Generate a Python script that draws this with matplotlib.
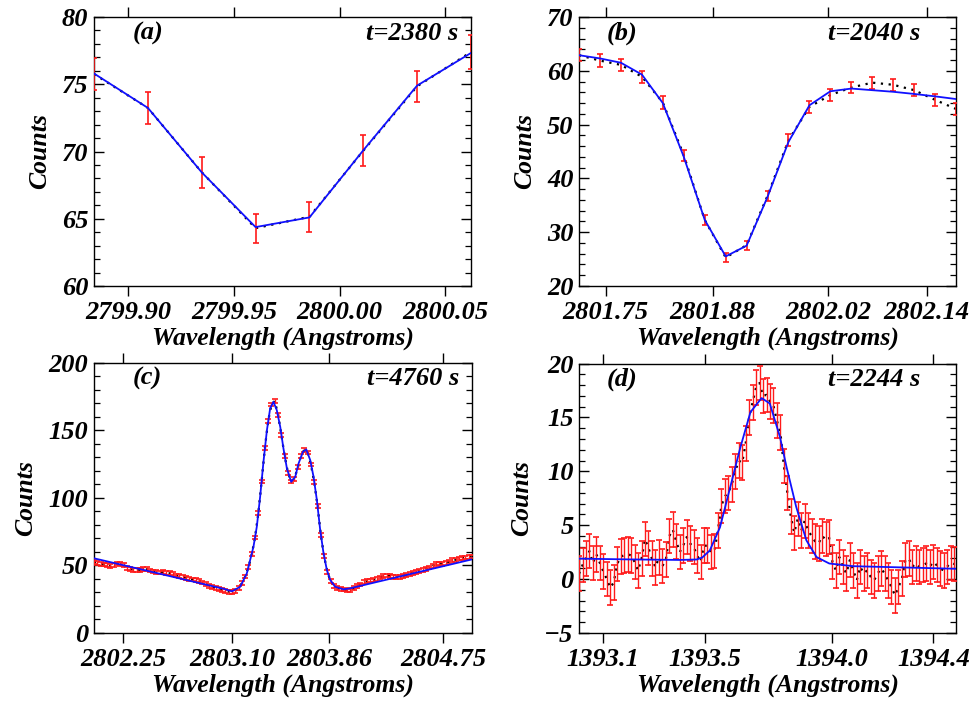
import numpy as np
import matplotlib
matplotlib.use("Agg")
import matplotlib.pyplot as plt
from matplotlib.ticker import MultipleLocator, FixedLocator, FixedFormatter

plt.rcParams['font.family'] = ['Liberation Serif', 'DejaVu Serif']
plt.rcParams['font.weight'] = 'bold'
plt.rcParams['font.style'] = 'italic'
plt.rcParams['axes.labelweight'] = 'bold'

# ---------------- Panel (a) ----------------
wave_a = [2799.8838, 2799.9093, 2799.9348, 2799.9602, 2799.9857, 2800.0112, 2800.0366, 2800.0621]
counts_a = [75.76, 73.24, 68.45, 64.30, 65.15, 70.07, 74.85, 77.40]
err_a = [1.20, 1.19, 1.15, 1.07, 1.10, 1.17, 1.17, 1.23]
fit_a = [75.80, 73.24, 68.44, 64.38, 65.10, 70.10, 74.90, 77.33]

# ---------------- Panel (b) ----------------
wave_b = [2801.7175, 2801.7430, 2801.7684, 2801.7939, 2801.8193, 2801.8448, 2801.8702,
          2801.8957, 2801.9211, 2801.9466, 2801.9720, 2801.9975, 2802.0229, 2802.0484,
          2802.0738, 2802.0993, 2802.1247, 2802.1502, 2802.1756]
counts_b = [62.9, 61.9, 61.1, 58.9, 54.1, 44.3, 32.3, 25.3, 27.6, 36.8, 47.1, 53.3,
            55.5, 56.9, 57.8, 57.4, 56.4, 54.6, 52.9]
err_b = [1.15, 1.17, 1.08, 1.10, 1.14, 0.99, 0.93, 0.80, 0.83, 0.93, 1.08, 1.08,
         1.08, 1.08, 1.14, 1.14, 1.08, 1.08, 1.08]
fit_b = [62.9, 62.3, 61.5, 59.3, 54.0, 44.0, 32.3, 25.5, 27.5, 36.6, 46.8, 53.6,
         56.2, 56.7, 56.4, 56.1, 55.7, 55.25, 54.75]

# ---------------- Panel (c) ----------------
wave_c_start = 2802.023
wave_c_step = 0.02566
counts_c = [52.5, 51.8, 51.0, 50.4, 50.0, 49.4, 50.2, 51.1, 50.6, 49.8,
            47.6, 47.2, 46.6, 46.3, 46.5, 47.1, 46.8, 46.0, 45.2, 44.8,
            44.4, 44.6, 44.0, 43.9, 43.2, 42.3, 41.6, 41.0, 40.5, 39.7,
            39.3, 39.0, 38.4, 37.1, 35.9, 34.6, 33.5, 32.9, 32.3, 31.6,
            31.0, 30.3, 30.0, 31.0, 33.0, 36.5, 41.5, 48.5, 58.0, 70.5,
            88.5, 112.0, 137.0, 157.0, 169.0, 171.5, 161.5, 146.5, 131.0, 118.5,
            112.0, 114.0, 122.5, 131.0, 135.5, 133.5, 124.5, 111.5, 94.0, 72.5,
            56.5, 45.0, 38.0, 34.5, 32.8, 32.5, 31.8, 31.2, 31.4, 32.8,
            34.2, 35.6, 37.3, 38.0, 38.6, 38.9, 39.6, 40.8, 41.8, 42.2,
            41.9, 41.2, 40.9, 41.3, 42.0, 42.6, 43.6, 44.3, 45.0, 45.8,
            46.6, 47.3, 48.2, 49.4, 51.0, 51.2, 50.8, 51.3, 52.5, 53.6,
            53.9, 54.8, 55.4, 55.6, 56.0, 56.4]
err_c = 1.4
fit_c_wave = [2802.023, 2803.040, 2803.100, 2803.164, 2803.216, 2803.268, 2803.294,
              2803.320, 2803.346, 2803.373, 2803.398, 2803.424, 2803.450, 2803.477,
              2803.502, 2803.529, 2803.5625, 2803.594, 2803.620, 2803.654, 2803.680,
              2803.711, 2803.737, 2803.763, 2803.789, 2803.815, 2803.841, 2803.867,
              2803.906, 2803.971, 2804.020, 2804.974]
fit_c_counts = [55.0, 32.3, 30.5, 33.9, 43.8, 63.6, 78.4, 100.6, 126.5, 150.0, 166.0,
                171.0, 164.8, 152.4, 136.4, 121.6, 111.7, 115.4, 125.3, 133.9, 135.7,
                127.8, 115.4, 98.1, 75.9, 58.7, 46.3, 38.9, 33.9, 32.0, 32.7, 54.2]

# ---------------- Panel (d) ----------------
wave_d_start = 1393.0055
wave_d_step = 0.01366
counts_d = [0.5, 1.3, 1.9, 2.6, 1.5, 2.3, 1.5, 0.7, 0.0, -0.8,
            -0.3, 1.4, 2.1, 2.2, 2.3, 2.2, 1.6, 0.8, 1.9, 3.7,
            2.9, 1.9, 1.1, 2.0, 1.2, 1.8, 4.0, 4.6, 3.5, 2.5,
            3.1, 3.9, 3.3, 3.0, 2.2, 1.6, 3.1, 3.1, 2.5, 2.6,
            4.5, 6.8, 7.7, 8.0, 8.8, 10.0, 11.0, 10.8, 12.6, 15.0,
            16.4, 17.8, 18.2, 17.0, 17.1, 16.5, 16.1, 14.7, 13.6, 10.5,
            8.0, 5.8, 4.3, 5.6, 4.5, 5.4, 4.5, 4.0, 3.5, 3.3,
            4.0, 3.7, 3.9, 1.57, 0.81, 2.04, 1.14, 0.53, 1.76, 0.81,
            -0.12, 1.14, 0.53, 0.81, 0.22, -0.12, 0.53, 0.99, 0.53, -0.12,
            -0.74, -1.51, -0.74, 0.04, 1.76, 1.91, 1.14, 1.45, 1.14, 1.30,
            1.45, 1.14, 1.60, 1.30, 0.99, 0.81, 1.14, 1.50, 1.40]
err_d = 1.6
fit_d_wave = [1393.0055, 1393.20, 1393.40, 1393.468, 1393.49, 1393.52, 1393.56, 1393.60,
              1393.64, 1393.68, 1393.724, 1393.756, 1393.796, 1393.822, 1393.86,
              1393.90, 1393.94, 1393.99, 1394.084, 1394.489]
fit_d_counts = [1.9, 1.83, 1.78, 1.82, 2.0, 2.66, 4.8, 8.5, 12.2, 15.5, 16.8, 16.3,
                13.2, 10.4, 6.7, 3.6, 2.05, 1.45, 1.2, 0.96]

wave_c = wave_c_start + wave_c_step * np.arange(len(counts_c))
wave_d = wave_d_start + wave_d_step * np.arange(len(counts_d))

panels = [
    dict(pos=[0.0966, 0.5949, 0.3875, 0.3810], w=wave_a, c=counts_a, e=err_a,
         fw=wave_a, fc=fit_a, xlim=(2799.8838, 2800.0621), ylim=(60, 80),
         yt=5, ym=1, xt=[2799.90, 2799.95, 2800.00, 2800.05],
         xl=['2799.90', '2799.95', '2800.00', '2800.05'],
         lab='(a)', labx=0.103, t='t=2380 s', tx=0.965, lw_e=1.2, cap=2.5),
    dict(pos=[0.5951, 0.5949, 0.3875, 0.3810], w=wave_b, c=counts_b, e=err_b,
         fw=wave_b, fc=fit_b, xlim=(2801.7175, 2802.1756), ylim=(20, 70),
         yt=10, ym=2, xt=[2801.75, 2801.88, 2802.02, 2802.14],
         xl=['2801.75', '2801.88', '2802.02', '2802.14'],
         lab='(b)', labx=0.073, t='t=2040 s', tx=0.905, lw_e=1.2, cap=2.5),
    dict(pos=[0.0966, 0.1041, 0.3885, 0.3822], w=wave_c, c=counts_c, e=err_c,
         fw=fit_c_wave, fc=fit_c_counts, xlim=(2802.023, 2804.974), ylim=(0, 200),
         yt=50, ym=10, xt=[2802.25, 2803.10, 2803.86, 2804.75],
         xl=['2802.25', '2803.10', '2803.86', '2804.75'],
         lab='(c)', labx=0.103, t='t=4760 s', tx=0.965, lw_e=1.0, cap=2.0),
    dict(pos=[0.5951, 0.1034, 0.3875, 0.3816], w=wave_d, c=counts_d, e=err_d,
         fw=fit_d_wave, fc=fit_d_counts, xlim=(1393.0055, 1394.489), ylim=(-5, 20),
         yt=5, ym=1, xt=[1393.1, 1393.5, 1394.0, 1394.4],
         xl=['1393.1', '1393.5', '1394.0', '1394.4'],
         lab='(d)', labx=0.073, t='t=2244 s', tx=0.905, lw_e=1.0, cap=2.0),
]

fig = plt.figure(figsize=(9.73, 7.06), dpi=100)
for p in panels:
    ax = fig.add_axes(p['pos'])
    ax.plot(p['w'], p['c'], linestyle=(0, (1, 2.5)), color='black', lw=1.6, zorder=2)
    ax.errorbar(p['w'], p['c'], yerr=p['e'], fmt='none', ecolor='#ff1a1a',
                elinewidth=p['lw_e'], capsize=p['cap'], capthick=1.2, zorder=3)
    ax.plot(p['fw'], p['fc'], color='#1010ff', lw=1.3, zorder=4)
    ax.set_xlim(*p['xlim'])
    ax.set_ylim(*p['ylim'])
    ax.yaxis.set_major_locator(MultipleLocator(p['yt']))
    ax.yaxis.set_minor_locator(MultipleLocator(p['ym']))
    ax.xaxis.set_major_locator(FixedLocator(p['xt']))
    ax.xaxis.set_major_formatter(FixedFormatter(p['xl']))
    ax.tick_params(axis='x', which='major', direction='out', top=True, bottom=True,
                   length=7, width=1, labelsize=19, pad=4)
    ax.tick_params(axis='y', which='major', direction='in', left=True, right=True,
                   length=7, width=1, labelsize=19, pad=4)
    ax.tick_params(axis='y', which='minor', direction='in', left=True, right=True,
                   length=4, width=0.9)
    for s in ax.spines.values():
        s.set_linewidth(1.0)
    for lbl in ax.get_xticklabels() + ax.get_yticklabels():
        lbl.set_fontweight('bold')
        lbl.set_fontstyle('italic')
    ax.set_xlabel('Wavelength (Angstroms)', fontsize=18.5, labelpad=2,
                  fontweight='bold', fontstyle='italic')
    ax.set_ylabel('Counts', fontsize=18.5, labelpad=8,
                  fontweight='bold', fontstyle='italic')
    ax.text(p['labx'], 0.94, p['lab'], transform=ax.transAxes, fontsize=19,
            ha='left', va='center', fontweight='bold', fontstyle='italic')
    ax.text(p['tx'], 0.94, p['t'], transform=ax.transAxes, fontsize=19,
            ha='right', va='center', fontweight='bold', fontstyle='italic')

fig.savefig('out.png', dpi=100)
